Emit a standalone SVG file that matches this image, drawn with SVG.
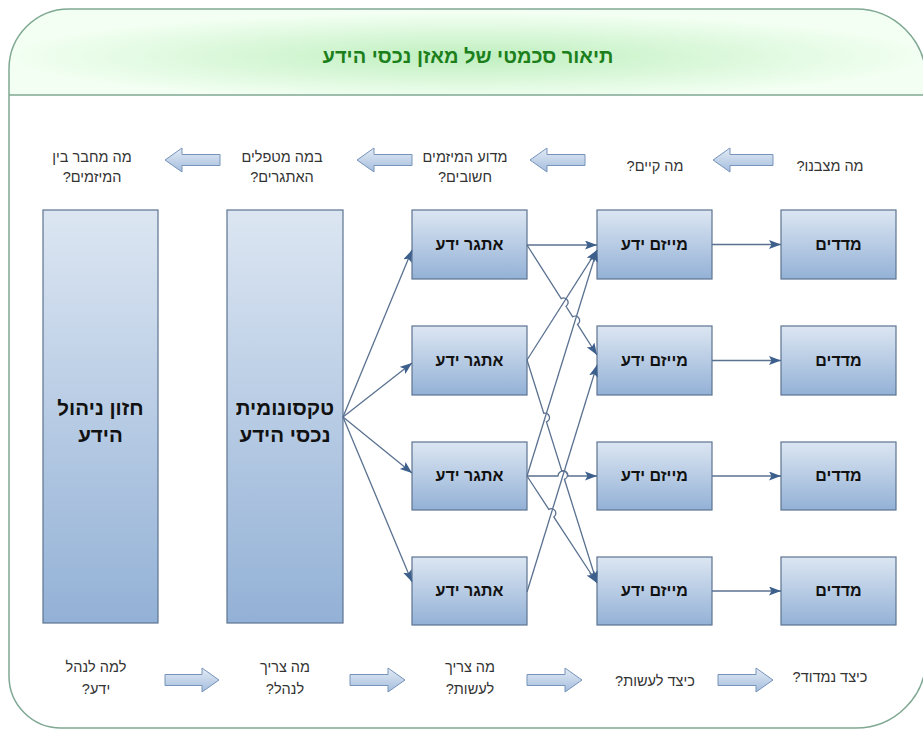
<svg xmlns="http://www.w3.org/2000/svg" width="923" height="733" viewBox="0 0 923 733">
<defs>
<linearGradient id="boxg" x1="0" y1="0" x2="0" y2="1">
<stop offset="0" stop-color="#dce6f2"/>
<stop offset="1" stop-color="#93b1d6"/>
</linearGradient>
<linearGradient id="arrg" x1="0" y1="0" x2="0" y2="1">
<stop offset="0" stop-color="#e3ebf5"/>
<stop offset="1" stop-color="#a4bddd"/>
</linearGradient>
<radialGradient id="hdrg" cx="0.5" cy="0.55" r="0.5">
<stop offset="0" stop-color="#bfefbf"/>
<stop offset="1" stop-color="#f2fff2"/>
</radialGradient>
<marker id="ah" markerWidth="13" markerHeight="10" refX="12" refY="4.5" orient="auto" markerUnits="userSpaceOnUse">
<path d="M0,0 L12,4.5 L0,9 L2.5,4.5 Z" fill="#3d5f8c"/>
</marker>
<style>
.box{stroke:#5d7391;stroke-width:1.2;fill:url(#boxg)}
.bt{font-family:"Liberation Sans","DejaVu Sans",Arial,sans-serif;font-weight:bold;font-size:16px;fill:#111;text-anchor:middle;direction:rtl}
.big{font-size:20.5px}
.lb{font-family:"Liberation Sans","DejaVu Sans",Arial,sans-serif;font-size:14.5px;fill:#333;text-anchor:middle;direction:rtl}
.con{fill:none;stroke:#5a7190;stroke-width:1.3;marker-end:url(#ah)}
.blk{fill:url(#arrg);stroke:#7693bb;stroke-width:1}
</style>
</defs>
<rect width="923" height="733" fill="#ffffff"/>
<g id="frame">
<path d="M9,95 L9,69 A60,60 0 0 1 69,9 L856,9 A70,70 0 0 1 926,79 L926,95 Z" fill="url(#hdrg)"/>
<path d="M9,69 A60,60 0 0 1 69,9 L856,9 A70,70 0 0 1 926,79 L926,658 A70,70 0 0 1 856,728 L61,728 A52,52 0 0 1 9,676 Z" fill="none" stroke="#7fa893" stroke-width="1.5"/>
<line x1="9" y1="95" x2="926" y2="95" stroke="#7fa893" stroke-width="1.5"/>
<text x="468" y="63" style="font-family:'Liberation Sans','DejaVu Sans',Arial,sans-serif;font-weight:bold;font-size:20px;fill:#1c7f1c;text-anchor:middle;direction:rtl">תיאור סכמטי של מאזן נכסי הידע</text>
</g>
<g id="vision"><rect class="box" x="43" y="210" width="115" height="413"/><text class="bt big" x="100.5" y="415">חזון ניהול</text><text class="bt big" x="100.5" y="442">הידע</text></g>
<g id="taxonomy"><rect class="box" x="227" y="210" width="116" height="413"/><text class="bt big" x="285" y="415">טקסונומית</text><text class="bt big" x="285" y="442">נכסי הידע</text></g>
<g id="ch1"><rect class="box" x="412" y="210" width="115" height="69"/><text class="bt" x="469.5" y="250">אתגר ידע</text></g>
<g id="ch2"><rect class="box" x="412" y="326" width="115" height="69"/><text class="bt" x="469.5" y="366">אתגר ידע</text></g>
<g id="ch3"><rect class="box" x="412" y="442" width="115" height="68"/><text class="bt" x="469.5" y="481">אתגר ידע</text></g>
<g id="ch4"><rect class="box" x="412" y="557" width="115" height="68"/><text class="bt" x="469.5" y="596">אתגר ידע</text></g>
<g id="in1"><rect class="box" x="597" y="210" width="115" height="69"/><text class="bt" x="654.5" y="250">מייזם ידע</text></g>
<g id="in2"><rect class="box" x="597" y="326" width="115" height="69"/><text class="bt" x="654.5" y="366">מייזם ידע</text></g>
<g id="in3"><rect class="box" x="597" y="442" width="115" height="68"/><text class="bt" x="654.5" y="481">מייזם ידע</text></g>
<g id="in4"><rect class="box" x="597" y="557" width="115" height="68"/><text class="bt" x="654.5" y="596">מייזם ידע</text></g>
<g id="me1"><rect class="box" x="781" y="210" width="115" height="69"/><text class="bt" x="838.5" y="250">מדדים</text></g>
<g id="me2"><rect class="box" x="781" y="326" width="115" height="69"/><text class="bt" x="838.5" y="366">מדדים</text></g>
<g id="me3"><rect class="box" x="781" y="442" width="115" height="68"/><text class="bt" x="838.5" y="481">מדדים</text></g>
<g id="me4"><rect class="box" x="781" y="557" width="115" height="68"/><text class="bt" x="838.5" y="596">מדדים</text></g>
<g id="connectors">
<path class="con" d="M343,417 L412,250"/>
<path class="con" d="M343,417 L412,363"/>
<path class="con" d="M343,417 L412,473"/>
<path class="con" d="M343,417 L412,582"/>
<path class="con" d="M527,245 L597,245"/>
<path class="con" d="M527,245 L561.18,298.7 A4.5,4.5 0 0 1 566.02,306.3 L572.68,316.8 A4.5,4.5 0 0 1 577.52,324.4 L597,355"/>
<path class="con" d="M527,360 L597,250"/>
<path class="con" d="M527,360 L543.75,413.31 A4.5,4.5 0 0 1 546.45,421.89 L561.75,470.71 A4.5,4.5 0 0 1 564.45,479.29 L597,583"/>
<path class="con" d="M527,476 L597,250"/>
<path class="con" d="M527,476 L558,476 A5,5 0 0 1 568,476 L597,476"/>
<path class="con" d="M527,476 L548.84,509.43 A4.5,4.5 0 0 1 553.76,516.97 L597,583"/>
<path class="con" d="M527,592 L597,365"/>
<path class="con" d="M712,244.5 L781,244.5"/>
<path class="con" d="M712,360.5 L781,360.5"/>
<path class="con" d="M712,476 L781,476"/>
<path class="con" d="M712,591 L781,591"/>
</g>
<g id="flow-arrows">
<path class="blk" d="M713,160 L730,148 L730,154.5 L773,154.5 L773,165.5 L730,165.5 L730,172 Z"/>
<path class="blk" d="M530,160 L547,148 L547,154.5 L585,154.5 L585,165.5 L547,165.5 L547,172 Z"/>
<path class="blk" d="M357,160 L374,148 L374,154.5 L412,154.5 L412,165.5 L374,165.5 L374,172 Z"/>
<path class="blk" d="M165,160 L182,148 L182,154.5 L220,154.5 L220,165.5 L182,165.5 L182,172 Z"/>
<path class="blk" d="M219,680 L202,668 L202,674.5 L165,674.5 L165,685.5 L202,685.5 L202,692 Z"/>
<path class="blk" d="M405,680 L388,668 L388,674.5 L350,674.5 L350,685.5 L388,685.5 L388,692 Z"/>
<path class="blk" d="M582,680 L565,668 L565,674.5 L527,674.5 L527,685.5 L565,685.5 L565,692 Z"/>
<path class="blk" d="M773,680 L756,668 L756,674.5 L718,674.5 L718,685.5 L756,685.5 L756,692 Z"/>
</g>
<g id="q-top1"><text class="lb" x="830" y="171">מה מצבנו?</text></g>
<g id="q-top2"><text class="lb" x="655" y="171">מה קיים?</text></g>
<g id="q-top3"><text class="lb" x="465" y="162">מדוע המיזמים</text><text class="lb" x="465" y="182">חשובים?</text></g>
<g id="q-top4"><text class="lb" x="282" y="162">במה מטפלים</text><text class="lb" x="282" y="182">האתגרים?</text></g>
<g id="q-top5"><text class="lb" x="92" y="162">מה מחבר בין</text><text class="lb" x="92" y="182">המיזמים?</text></g>
<g id="q-bot1"><text class="lb" x="96" y="672">למה לנהל</text><text class="lb" x="96" y="694">ידע?</text></g>
<g id="q-bot2"><text class="lb" x="285" y="672">מה צריך</text><text class="lb" x="285" y="694">לנהל?</text></g>
<g id="q-bot3"><text class="lb" x="470" y="672">מה צריך</text><text class="lb" x="470" y="694">לעשות?</text></g>
<g id="q-bot4"><text class="lb" x="655" y="686">כיצד לעשות?</text></g>
<g id="q-bot5"><text class="lb" x="830" y="682">כיצד נמדוד?</text></g>
</svg>
